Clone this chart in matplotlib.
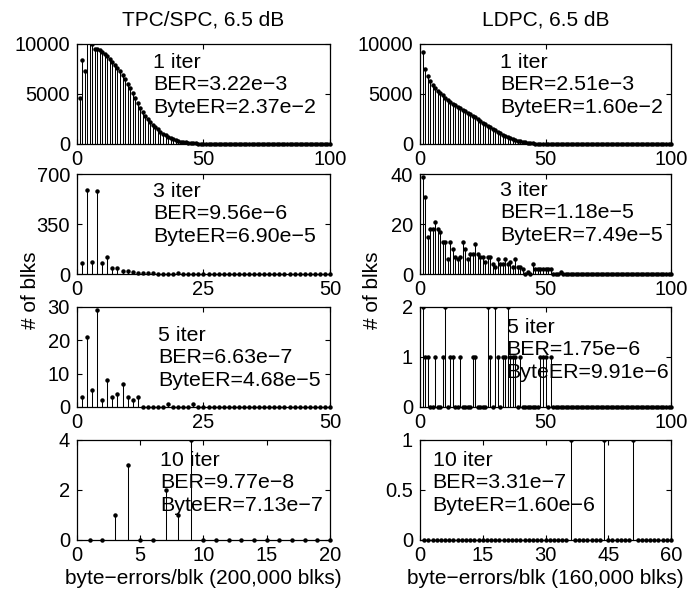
import numpy as np
import matplotlib
matplotlib.use("Agg")
import matplotlib.pyplot as plt
from matplotlib.patches import Rectangle

plt.rcParams["font.family"] = ["Liberation Sans", "DejaVu Sans"]
plt.rcParams["font.size"] = 14.5

# histogrammes: nombre de blocs par nombre d'erreurs d'octets (x = 1, 2, ...)
tpc_1iter = [4600, 8400, 7300, 11500, 10800, 10000, 9500, 9500, 9400, 9200,
             9000, 8800, 8500, 8200, 7900, 7600, 7300, 6900, 6500, 6000,
             5600, 5100, 4600, 4100, 3600, 3200, 2800, 2500, 2200, 1900,
             1650, 1450, 1200, 1000, 850, 700, 560, 450, 370, 300,
             240, 190, 150, 120, 100, 80, 60, 45, 35, 25,
             18, 13, 10, 7, 5, 4, 3, 2, 2, 1] + [0] * 40
tpc_3iter = [80, 590, 85, 580, 80, 120, 45, 45, 20, 20,
             15, 10, 8, 5, 5, 3, 3, 3, 2, 6,
             2, 1, 1, 1, 1, 1, 1, 1, 1, 2,
             1, 1, 1, 0, 0, 0, 1, 0, 0, 0] + [0] * 10
tpc_5iter = [3, 21, 5, 29, 2, 8, 3, 4, 7, 3,
             2, 3, 0, 0, 0, 0, 0, 1, 0, 0,
             0, 0, 1, 0, 0] + [0] * 25
tpc_10iter = [0, 0, 1, 3, 0, 0, 2, 1, 4, 0,
              0, 0, 0, 0, 0, 0, 0, 0, 0, 0]

ldpc_1iter = [9200, 7500, 6800, 6300, 5900, 5600, 5300, 5100, 4900, 4600,
              4400, 4200, 4000, 3850, 3700, 3550, 3400, 3250, 3100, 2950,
              2800, 2650, 2450, 2300, 2100, 1950, 1800, 1650, 1500, 1350,
              1200, 1050, 920, 800, 680, 570, 470, 390, 310, 250,
              200, 150, 110, 80, 60, 45, 30, 20, 15, 10,
              7, 5, 3, 2, 1, 1] + [0] * 44
ldpc_3iter = [39, 31, 15, 18, 18, 21, 18, 17, 13, 13,
              6, 13, 10, 7, 6, 7, 13, 10, 6, 8,
              8, 12, 8, 7, 7, 5, 7, 7, 4, 3,
              6, 4, 4, 6, 4, 5, 3, 6, 3, 3,
              2, 0, 1, 0, 4, 2, 2, 2, 2, 2,
              2, 2, 0, 0, 0, 1] + [0] * 44
ldpc_5iter = [2, 1, 1, 0, 0, 1, 0, 0, 1, 2,
              0, 1, 1, 0, 0, 1, 0, 0, 0, 0,
              1, 1, 0, 0, 0, 0, 2, 1, 0, 2,
              1, 0, 1, 1, 2, 1, 1, 1, 0, 1,
              0, 0, 0, 0, 0, 0, 0, 1, 1, 1,
              0, 1] + [0] * 48
ldpc_10iter = [0] * 35 + [1] + [0] * 7 + [1] + [0] * 6 + [1] + [0] * 9

tpc_labels = ["1 iter\nBER=3.22e\u22123\nByteER=2.37e\u22122",
              "3 iter\nBER=9.56e\u22126\nByteER=6.90e\u22125",
              "5 iter\nBER=6.63e\u22127\nByteER=4.68e\u22125",
              "10 iter\nBER=9.77e\u22128\nByteER=7.13e\u22127"]
ldpc_labels = ["1 iter\nBER=2.51e\u22123\nByteER=1.60e\u22122",
               "3 iter\nBER=1.18e\u22125\nByteER=7.49e\u22125",
               "5 iter\nBER=1.75e\u22126\nByteER=9.91e\u22126",
               "10 iter\nBER=3.31e\u22127\nByteER=1.60e\u22126"]

tpc_xticks = [[0, 50, 100], [0, 25, 50], [0, 25, 50], [0, 5, 10, 15, 20]]
tpc_yticks = [[0, 5000, 10000], [0, 350, 700], [0, 10, 20, 30], [0, 2, 4]]
ldpc_xticks = [[0, 50, 100], [0, 50, 100], [0, 50, 100], [0, 15, 30, 45, 60]]
ldpc_yticks = [[0, 5000, 10000], [0, 20, 40], [0, 1, 2], [0, 0.5, 1]]
ytick_text = {0.5: "0.5"}

# positions des cadres (fraction de figure)
row_bottoms = [0.7588, 0.541, 0.3183, 0.0955]
row_h = 0.1675
col_left = [0.110, 0.600]
col_w = [0.3614, 0.3586]

# position du texte dans chaque cadre (axes)
tpc_txt = [(0.30, 0.91), (0.30, 0.92), (0.32, 0.81), (0.33, 0.89)]
ldpc_txt = [(0.32, 0.91), (0.32, 0.93), (0.345, 0.89), (0.05, 0.89)]


def draw_panel(ax, counts, xticks, yticks, label, txt_pos):
    x = np.arange(1, len(counts) + 1)
    markerline, stemlines, baseline = ax.stem(x, counts, linefmt="k-", markerfmt="ko", basefmt=" ")
    stemlines.set_linewidth(0.75)
    markerline.set_markersize(2.2)
    clip = Rectangle((-0.02, -0.06), 1.04, 1.06, transform=ax.transAxes)
    markerline.set_clip_path(clip)
    ax.set_xlim(xticks[0], xticks[-1])
    ax.set_ylim(yticks[0], yticks[-1])
    ax.set_xticks(xticks)
    ax.set_yticks(yticks)
    ax.set_yticklabels([ytick_text.get(v, str(v)) for v in yticks])
    ax.tick_params(direction="in", length=3.5, width=0.8, top=True, right=True, labelsize=14.5)
    ax.tick_params(axis="x", pad=4)
    ax.tick_params(axis="y", pad=5)
    for sp in ax.spines.values():
        sp.set_linewidth(0.9)
    ax.text(txt_pos[0], txt_pos[1], label, transform=ax.transAxes, ha="left", va="top",
            fontsize=15.4, linespacing=1.22)


fig = plt.figure(figsize=(7, 5.97), dpi=100)

tpc_data = [tpc_1iter, tpc_3iter, tpc_5iter, tpc_10iter]
ldpc_data = [ldpc_1iter, ldpc_3iter, ldpc_5iter, ldpc_10iter]

for i in range(4):
    ax = fig.add_axes([col_left[0], row_bottoms[i], col_w[0], row_h])
    draw_panel(ax, tpc_data[i], tpc_xticks[i], tpc_yticks[i], tpc_labels[i], tpc_txt[i])
    if i == 0:
        ax.set_title("TPC/SPC, 6.5 dB", fontsize=15, pad=13)
    if i == 3:
        ax.set_xlabel("byte\u2212errors/blk (200,000 blks)", fontsize=15, labelpad=3)

    ax = fig.add_axes([col_left[1], row_bottoms[i], col_w[1], row_h])
    draw_panel(ax, ldpc_data[i], ldpc_xticks[i], ldpc_yticks[i], ldpc_labels[i], ldpc_txt[i])
    if i == 0:
        ax.set_title("LDPC, 6.5 dB", fontsize=15, pad=13)
    if i == 3:
        ax.set_xlabel("byte\u2212errors/blk (160,000 blks)", fontsize=15, labelpad=3)

fig.text(30 / 700, 0.514, "# of blks", rotation=90, ha="center", va="center", fontsize=15)
fig.text(372 / 700, 0.514, "# of blks", rotation=90, ha="center", va="center", fontsize=15)

fig.savefig("out.png", dpi=100)
